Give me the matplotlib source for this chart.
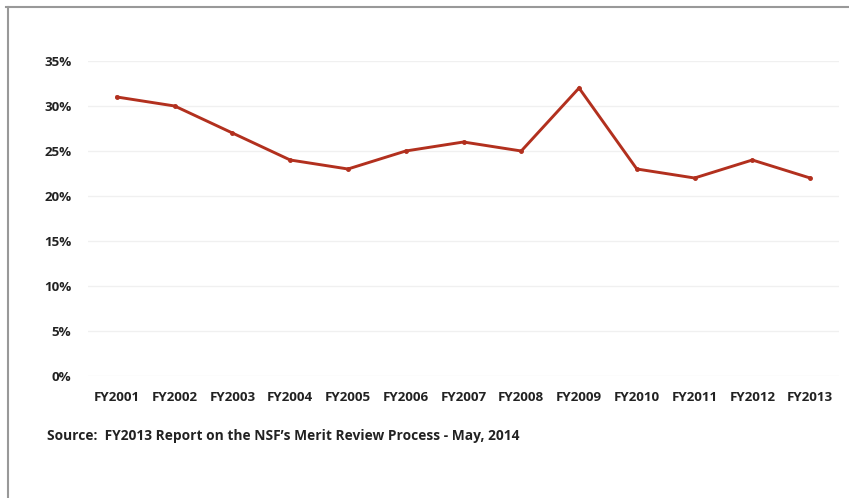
import matplotlib
matplotlib.use("Agg")
import matplotlib.pyplot as plt
from matplotlib.lines import Line2D
from matplotlib.ticker import FuncFormatter

# --- data ---
years = ["FY2001", "FY2002", "FY2003", "FY2004", "FY2005", "FY2006", "FY2007",
         "FY2008", "FY2009", "FY2010", "FY2011", "FY2012", "FY2013"]
rates = [0.31, 0.30, 0.27, 0.24, 0.23, 0.25, 0.26, 0.25, 0.32, 0.23, 0.22, 0.24, 0.22]
yticks = [0.0, 0.05, 0.10, 0.15, 0.20, 0.25, 0.30, 0.35]
source = "Source:  FY2013 Report on the NSF\u2019s Merit Review Process - May, 2014"

W, H = 849, 498
fig = plt.figure(figsize=(W / 100, H / 100), dpi=100)
fig.patch.set_facecolor("white")

ax = fig.add_axes([88 / W, 1 - 376 / H, (839 - 88) / W, (376 - 61) / H])
x = list(range(len(years)))
ax.plot(x, rates, color="#b2301e", linewidth=2.1, marker="o", markersize=2.5,
        solid_joinstyle="miter")

ax.set_xlim(-0.5, len(years) - 0.5)
ax.set_ylim(0, 0.35)
ax.set_yticks(yticks)
ax.yaxis.set_major_formatter(FuncFormatter(lambda v, p: f"{v * 100:.0f}%"))
ax.set_xticks(x)
ax.set_xticklabels(years)

for t in ax.get_xticklabels() + ax.get_yticklabels():
    t.set_fontfamily("Open Sans")
    t.set_fontweight("bold")
    t.set_fontsize(9.6)
    t.set_color("#222222")

ax.tick_params(axis="both", length=0)
ax.tick_params(axis="y", pad=12)
ax.tick_params(axis="x", pad=11)
ax.grid(axis="y", color="#f0f0f0", linewidth=1.0)
ax.set_axisbelow(True)
for s in ax.spines.values():
    s.set_visible(False)

fig.text(47 / W, 1 - 436 / H, source, fontfamily="Open Sans", fontweight="bold",
         fontsize=9.9, color="#222222", va="center", ha="left")

# frame of the original screenshot (top and left edges)
fig.add_artist(Line2D([6 / W, 1], [1 - 7 / H, 1 - 7 / H], transform=fig.transFigure,
                      color="#999999", linewidth=1.5))
fig.add_artist(Line2D([8 / W, 8 / W], [0, 1 - 7 / H], transform=fig.transFigure,
                      color="#999999", linewidth=1.5))

fig.savefig("out.png", dpi=100, facecolor="white")
